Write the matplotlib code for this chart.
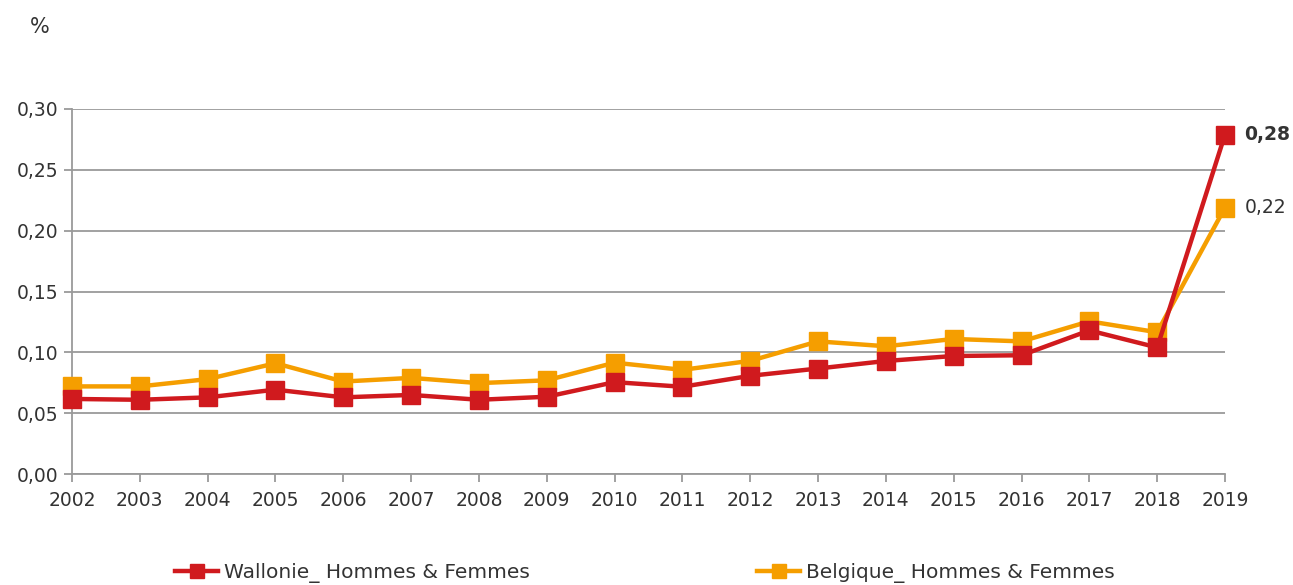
import matplotlib
matplotlib.use("Agg")
import matplotlib.pyplot as plt
from matplotlib.ticker import FuncFormatter, MultipleLocator

years = list(range(2002, 2020))
wallonie = [0.0617, 0.061, 0.063, 0.0693, 0.063, 0.065, 0.061, 0.0635, 0.0755,
            0.0717, 0.0807, 0.0867, 0.0929, 0.097, 0.0976, 0.118, 0.104, 0.279]
belgique = [0.072, 0.072, 0.078, 0.091, 0.076, 0.079, 0.0747, 0.077, 0.0915,
            0.0856, 0.093, 0.109, 0.105, 0.111, 0.109, 0.1255, 0.1165, 0.219]
labels = ["Wallonie_ Hommes & Femmes", "Belgique_ Hommes & Femmes"]

RED = "#D01A1E"
ORANGE = "#F59E00"
GRID = "#9A9A9A"
TXT = "#333333"
FS = 13.5

plt.rcParams['font.family'] = ['DejaVu Sans']

fig = plt.figure(figsize=(12.93, 5.85), dpi=100)
ax = fig.add_axes([72/1293, 1-474/585, (1225-72)/1293, (474-109)/585])

l1, = ax.plot(years, wallonie, color=RED, lw=3.2, marker='s', ms=12.5, clip_on=False, zorder=4, label=labels[0])
l2, = ax.plot(years, belgique, color=ORANGE, lw=3.2, marker='s', ms=12.5, clip_on=False, zorder=3, label=labels[1])

ax.set_xlim(2002, 2019)
ax.set_ylim(0, 0.30)
ax.yaxis.set_major_locator(MultipleLocator(0.05))
ax.yaxis.set_major_formatter(FuncFormatter(lambda v, p: f"{v:.2f}".replace('.', ',')))
ax.set_xticks(years)
ax.set_xticklabels([str(y) for y in years])
ax.grid(axis='y', color=GRID, lw=1.3)
ax.set_axisbelow(True)
for s in ['top', 'right']:
    ax.spines[s].set_visible(False)
for s in ['left', 'bottom']:
    ax.spines[s].set_color(GRID)
    ax.spines[s].set_linewidth(1.3)
ax.tick_params(axis='both', colors=GRID, labelcolor=TXT, labelsize=FS, length=6, width=1.3)
ax.tick_params(axis='x', pad=6)
ax.tick_params(axis='y', pad=4)

ax.annotate("0,28", xy=(2019, wallonie[-1]), xytext=(14, 0), textcoords='offset points',
            va='center', ha='left', fontsize=FS, fontweight='bold', color=TXT, annotation_clip=False)
ax.annotate("0,22", xy=(2019, belgique[-1]), xytext=(14, 0), textcoords='offset points',
            va='center', ha='left', fontsize=FS, color=TXT, annotation_clip=False)

fig.text(40/1293, 1-27/585, "%", fontsize=15, color=TXT, ha='center', va='center')

for h, lab, x0 in [(l1, labels[0], 175), (l2, labels[1], 757)]:
    fig.legend(handles=[h], labels=[lab], loc='center left', bbox_to_anchor=(x0/1293, 1-573/585),
               frameon=False, fontsize=14.5, handlelength=2.15, borderpad=0, borderaxespad=0,
               handletextpad=0.3, labelcolor=TXT, markerscale=0.75)

fig.savefig("out.png", dpi=100)
